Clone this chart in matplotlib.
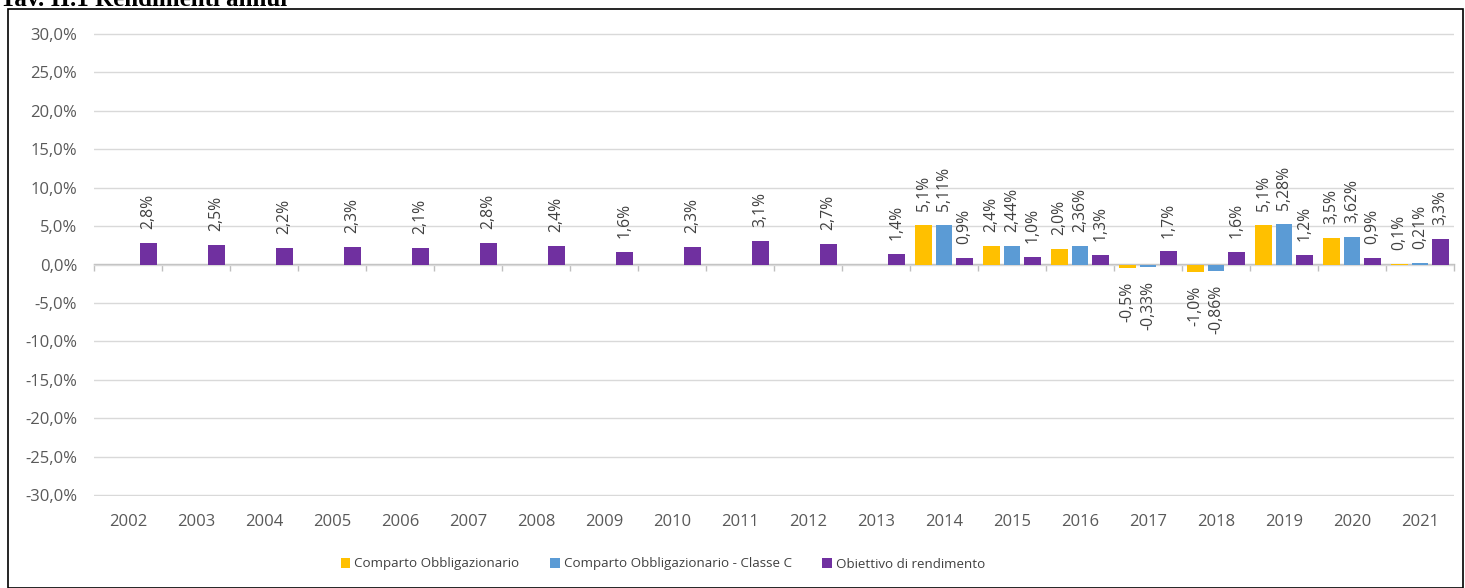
import numpy as np
import matplotlib
matplotlib.use('Agg')
import matplotlib.pyplot as plt
from matplotlib.patches import Rectangle
from matplotlib.ticker import FuncFormatter, FixedLocator, NullFormatter

plt.rcParams['font.family'] = ['Open Sans', 'DejaVu Sans']

years = [str(y) for y in range(2002, 2022)]
nan = np.nan
comparto = [nan]*12 + [5.1, 2.4, 2.0, -0.5, -1.0, 5.1, 3.5, 0.1]
classe_c = [nan]*12 + [5.11, 2.44, 2.36, -0.33, -0.86, 5.28, 3.62, 0.21]
obiettivo = [2.8, 2.5, 2.2, 2.3, 2.1, 2.8, 2.4, 1.6, 2.3, 3.1,
             2.7, 1.4, 0.9, 1.0, 1.3, 1.7, 1.6, 1.2, 0.9, 3.3]

series = [
  ('Comparto Obbligazionario', comparto, '#FFC000', 1),
  ('Comparto Obbligazionario - Classe C', classe_c, '#5B9BD5', 2),
  ('Obiettivo di rendimento', obiettivo, '#7030A0', 1),
]

W, H = 1465, 588
fig = plt.figure(figsize=(W/100, H/100), dpi=100)
ax = fig.add_axes([94/W, 1-496/H, (1454-94)/W, (496-33)/H])

x = np.arange(len(years))
width = 0.245
offsets = [-0.3, 0.0, 0.3]
txt_col = '#404040'
axis_col = '#BFBFBF'

def pct(v, dec):
  return ('{:.%df}%%' % dec).format(v).replace('.', ',')

for (name, vals, col, dec), off in zip(series, offsets):
  bars = ax.bar(x+off, vals, width, color=col, label=name, zorder=2)
  labels = ['' if np.isnan(v) else pct(v, dec) for v in vals]
  ax.bar_label(bars, labels=labels, padding=10, rotation=90,
               fontsize=11.3, color=txt_col)

ax.set_xlim(-0.5, len(years)-0.5)
ax.set_ylim(-30.1, 30.1)
ax.set_yticks(np.arange(-30, 31, 5))
ax.yaxis.set_major_formatter(FuncFormatter(lambda v, p: pct(v, 1)))
ax.set_xticks(x)
ax.set_xticklabels(years)
ax.tick_params(axis='both', length=0, labelsize=12, labelcolor='#595959')
ax.tick_params(axis='x', pad=13)
ax.tick_params(axis='y', pad=12)
ax.grid(axis='y', color='#D9D9D9', linewidth=1)
ax.set_axisbelow(True)
for s in ax.spines.values():
  s.set_visible(False)

# category axis at zero with small tick marks between years
sec = ax.secondary_xaxis(0.5)
sec.xaxis.set_major_locator(FixedLocator(np.arange(len(years)+1)-0.5))
sec.xaxis.set_major_formatter(NullFormatter())
sec.tick_params(axis='x', direction='in', length=5, color=axis_col, width=1)
for s in sec.spines.values():
  s.set_color(axis_col)
  s.set_linewidth(1)

leg = fig.legend(loc='center', bbox_to_anchor=(663/W, 1-564/H), ncol=3,
                 frameon=False, fontsize=9.6, handlelength=0.7,
                 handleheight=0.7, handletextpad=0.3, columnspacing=2.3)
for t in leg.get_texts():
  t.set_color(txt_col)

fig.patches.append(Rectangle((8/W, 0.5/H), (1463-8)/W, (H-9-0.5)/H,
                             transform=fig.transFigure, fill=False,
                             edgecolor='black', linewidth=1.2))
fig.text(0/W, 1-6.5/H, 'Tav. II.1 Rendimenti annui', family='Liberation Serif',
         fontweight='bold', fontsize=18, va='baseline', ha='left')

fig.savefig('out.png', dpi=100)
